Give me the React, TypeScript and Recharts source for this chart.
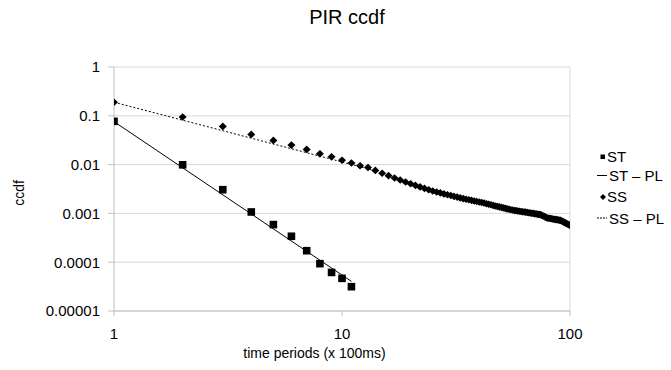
import React from 'react';
import {
  ComposedChart,
  Scatter,
  Line,
  XAxis,
  YAxis,
  CartesianGrid,
  ReferenceLine,
} from 'recharts';

// ST measurements, time periods 1..11
const stValues = [
  0.077, 0.0099, 0.00306, 0.00107, 0.00059, 0.00034, 0.000172, 0.0000933, 0.0000617,
  0.0000467, 0.0000315,
];

// ST power-law fit (end points)
const stFitX = [1, 11];
const stFitY = [0.076, 0.0000404];

// SS measurements, time periods 1..100
const ssValues = [
  0.189, 0.0944, 0.0607, 0.0416, 0.0313, 0.0251, 0.0205, 0.0166, 0.0144, 0.0123,
  0.0108, 0.0095, 0.0087, 0.0076, 0.00667, 0.00593, 0.00533, 0.00483, 0.0044, 0.00406,
  0.00375, 0.00349, 0.00325, 0.00305, 0.00288, 0.00275, 0.00263, 0.00251, 0.00241, 0.00232,
  0.00223, 0.00216, 0.00208, 0.00201, 0.00195, 0.0019, 0.00185, 0.0018, 0.00175, 0.00171,
  0.00167, 0.00163, 0.00158, 0.00154, 0.0015, 0.00146, 0.00142, 0.00139, 0.00136, 0.00133,
  0.0013, 0.00127, 0.00124, 0.00122, 0.00119, 0.00117, 0.00115, 0.00114, 0.00112, 0.00111,
  0.00109, 0.00108, 0.00107, 0.00106, 0.00104, 0.00103, 0.00102, 0.00101, 0.001, 0.000986,
  0.000977, 0.000964, 0.000955, 0.000944, 0.000923, 0.000893, 0.000869, 0.00084, 0.000817, 0.000802,
  0.000794, 0.000787, 0.000778, 0.000767, 0.00076, 0.000753, 0.000746, 0.00074, 0.000733, 0.000726,
  0.000719, 0.000698, 0.000682, 0.000664, 0.000648, 0.00063, 0.000615, 0.000598, 0.000586, 0.000565,
];

// SS power-law fit (end points)
const ssFitX = [1, 14];
const ssFitY = [0.19, 0.0075];

const xTicks = [1, 10, 100];
const yTicks = [0.00001, 0.0001, 0.001, 0.01, 0.1, 1];
const yTickLabels = ['0.00001', '0.0001', '0.001', '0.01', '0.1', '1'];

const stData = stValues.map((y, i) => ({ x: i + 1, y }));
const ssData = ssValues.map((y, i) => ({ x: i + 1, y }));
const stFit = stFitX.map((x, i) => ({ x, y: stFitY[i] }));
const ssFit = ssFitX.map((x, i) => ({ x, y: ssFitY[i] }));

const FONT = '"Liberation Sans", Arial, sans-serif';
const GRID = '#d9d9d9';
const AXIS = '#c0c0c0';

const SquareDot = (props: any) => {
  const { cx, cy } = props;
  if (cx == null || cy == null) return null;
  const h = 3.8;
  return <rect x={cx - h} y={cy - h} width={h * 2} height={h * 2} fill="#000" />;
};

const DiamondDot = (props: any) => {
  const { cx, cy } = props;
  if (cx == null || cy == null) return null;
  const w = 4;
  const h = 3.8;
  return (
    <path
      d={`M${cx},${cy - h}L${cx + w},${cy}L${cx},${cy + h}L${cx - w},${cy}Z`}
      fill="#000"
    />
  );
};

export default function App() {
  return (
    <div
      style={{
        position: 'fixed',
        left: 0,
        top: 0,
        width: 671,
        height: 370,
        background: '#fff',
        fontFamily: FONT,
        overflow: 'hidden',
      }}
    >
      <ComposedChart
        width={671}
        height={370}
        margin={{ top: 67, right: 101, bottom: 0, left: 0 }}
      >
        <CartesianGrid vertical={false} stroke={GRID} />
        <XAxis
          dataKey="x"
          type="number"
          scale="log"
          domain={[1, 100]}
          ticks={xTicks}
          allowDataOverflow
          height={59}
          stroke={AXIS}
          tickSize={5}
          tickMargin={12}
          tick={{ fill: '#000', fontSize: 15, fontFamily: FONT }}
        />
        <YAxis
          dataKey="y"
          type="number"
          scale="log"
          domain={[0.00001, 1]}
          ticks={yTicks}
          allowDataOverflow
          width={114}
          stroke={AXIS}
          tickSize={6}
          tickMargin={8}
          tickFormatter={(v: number) => yTickLabels[yTicks.indexOf(v)] ?? String(v)}
          tick={{ fill: '#000', fontSize: 15, fontFamily: FONT }}
        />
        <ReferenceLine x={100} stroke={GRID} />
        <Line
          data={stFit}
          dataKey="y"
          stroke="#000"
          strokeWidth={1}
          dot={false}
          activeDot={false}
          isAnimationActive={false}
          name="ST – PL"
        />
        <Line
          data={ssFit}
          dataKey="y"
          stroke="#000"
          strokeWidth={1}
          strokeDasharray="2 2"
          dot={false}
          activeDot={false}
          isAnimationActive={false}
          name="SS – PL"
        />
        <Scatter
          data={ssData}
          dataKey="y"
          shape={DiamondDot}
          isAnimationActive={false}
          name="SS"
        />
        <Scatter
          data={stData}
          dataKey="y"
          shape={SquareDot}
          isAnimationActive={false}
          name="ST"
        />
      </ComposedChart>
      <svg
        width={671}
        height={370}
        style={{ position: 'absolute', left: 0, top: 0, pointerEvents: 'none' }}
        fontFamily={FONT}
      >
        <text x={347} y={24} textAnchor="middle" fontSize={20} fill="#000">
          PIR ccdf
        </text>
        <text x={314.5} y={358} textAnchor="middle" fontSize={14} fill="#000">
          time periods (x 100ms)
        </text>
        <text
          transform="translate(23.5,193) rotate(-90)"
          textAnchor="middle"
          fontSize={14}
          fill="#000"
        >
          ccdf
        </text>
        {/* legend */}
        <rect x={600.5} y={154.5} width={4.5} height={4.5} fill="#000" />
        <text x={607} y={162} fontSize={15} fill="#000">ST</text>
        <line x1={597} x2={607} y1={175.5} y2={175.5} stroke="#000" strokeWidth={1} />
        <text x={609} y={181} fontSize={15} fill="#000">ST – PL</text>
        <path d="M603,194 L606,197 L603,200 L600,197 Z" fill="#000" />
        <text x={607} y={202} fontSize={15} fill="#000">SS</text>
        <line
          x1={597}
          x2={607}
          y1={218}
          y2={218}
          stroke="#000"
          strokeWidth={1}
          strokeDasharray="2 1"
        />
        <text x={609} y={223.5} fontSize={15} fill="#000">SS – PL</text>
      </svg>
    </div>
  );
}
